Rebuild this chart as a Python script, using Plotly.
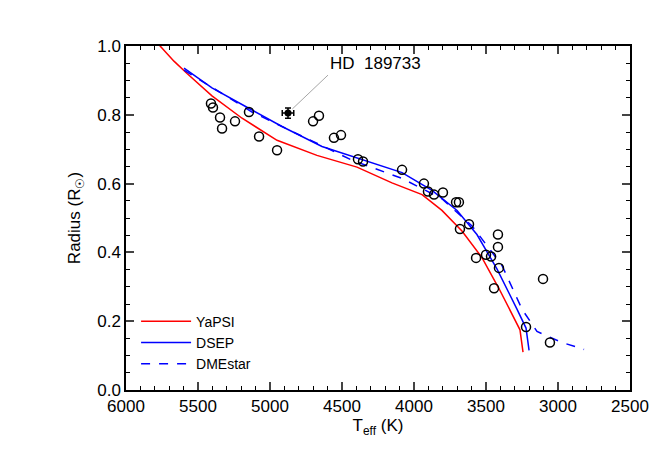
import plotly.graph_objects as go

obs_teff = [5410,5396,5347,5333,5243,5146,5076,4951,4701,4660,4556,4507,4389,4354,4083,3931,3903,3861,3799,3708,3688,3618,3681,3417,3417,3500,3465,3569,3410,3444,3104,3222,3056]
obs_rad = [0.833,0.821,0.792,0.760,0.781,0.808,0.737,0.697,0.781,0.797,0.733,0.741,0.671,0.664,0.640,0.600,0.577,0.568,0.574,0.546,0.546,0.482,0.468,0.452,0.416,0.393,0.388,0.384,0.355,0.296,0.323,0.183,0.138]
hd_teff = [4875]; hd_rad = [0.805]; hd_terr = [40]; hd_rerr = [0.015]

yapsi_t = [5785,5667,5576,5403,5194,4951,4674,4396,4153,3944,3806,3667,3528,3410,3264,3243]
yapsi_r = [1.01,0.956,0.92,0.855,0.790,0.726,0.682,0.648,0.602,0.568,0.522,0.462,0.385,0.295,0.175,0.11]
dsep_t = [5597,5403,5160,4917,4639,4361,4083,3875,3701,3563,3424,3285,3222,3201]
dsep_r = [0.936,0.878,0.822,0.766,0.708,0.670,0.632,0.580,0.522,0.452,0.352,0.235,0.180,0.115]
dme_t = [5597,5125,4778,4431,4083,3806,3597,3389,3250,3146,2972,2819]
dme_r = [0.930,0.808,0.738,0.668,0.615,0.556,0.477,0.362,0.235,0.170,0.138,0.118]

fig = go.Figure()
fig.add_trace(go.Scatter(x=yapsi_t, y=yapsi_r, mode="lines", name="YaPSI", line=dict(color="red", width=1.5)))
fig.add_trace(go.Scatter(x=dsep_t, y=dsep_r, mode="lines", name="DSEP", line=dict(color="blue", width=1.5)))
fig.add_trace(go.Scatter(x=dme_t, y=dme_r, mode="lines", name="DMEstar", line=dict(color="blue", width=1.5, dash="dash")))
fig.add_trace(go.Scatter(x=obs_teff, y=obs_rad, mode="markers", showlegend=False,
                         marker=dict(symbol="circle-open", size=9, color="black", line=dict(width=1.5))))
fig.add_trace(go.Scatter(x=hd_teff, y=hd_rad, mode="markers", showlegend=False,
                         error_x=dict(array=hd_terr, color="black", thickness=1.5, width=3),
                         error_y=dict(array=hd_rerr, color="black", thickness=1.5, width=3),
                         marker=dict(symbol="circle", size=7, color="black")))
fig.add_annotation(x=hd_teff[0], y=hd_rad[0], text="HD  189733", ax=40, ay=-38,
                   xanchor="left", yanchor="bottom", showarrow=True, arrowhead=0, arrowwidth=0.7,
                   arrowcolor="gray", font=dict(size=17, color="black"), standoff=6)

axis = dict(showline=True, linecolor="black", linewidth=1.5, mirror="ticks", ticks="inside",
            ticklen=8, tickwidth=1.5, showgrid=False, zeroline=False,
            minor=dict(ticks="inside", ticklen=4, tickwidth=1, tickcolor="black"),
            tickfont=dict(size=17, color="black"), title_font=dict(size=17, color="black"))
fig.update_xaxes(axis, range=[6000, 2500], dtick=500, minor_dtick=100,
                 title_text="T<sub>eff</sub> (K)", title_standoff=2)
fig.update_yaxes(axis, range=[0, 1.0], dtick=0.2, tickformat=".1f", minor_dtick=0.05,
                 title_text="Radius (R<sub>☉</sub>)", title_standoff=12)
fig.update_layout(width=665, height=475, plot_bgcolor="white", paper_bgcolor="white",
                  margin=dict(l=118, r=43, t=38, b=93),
                  font=dict(family="Liberation Sans", color="black"),
                  legend=dict(x=0.02, y=0.03, xanchor="left", yanchor="bottom",
                              bgcolor="rgba(0,0,0,0)", font=dict(size=14), itemwidth=50))
fig.write_html("out.html")
